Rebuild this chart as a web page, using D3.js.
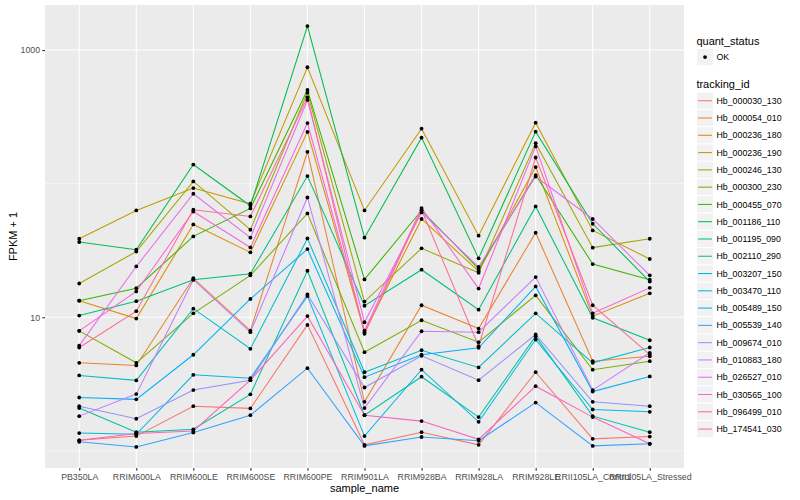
<!DOCTYPE html>
<html>
<head>
<meta charset="utf-8">
<script src="https://d3js.org/d3.v7.min.js"></script>
<style>
  body { margin: 0; background: #fff; }
  text { font-family: "Liberation Sans", Arial, sans-serif; }
</style>
</head>
<body>
<svg width="800" height="500"></svg>
<script>
// categories on the x axis
var samples = ["PB350LA", "RRIM600LA", "RRIM600LE", "RRIM600SE", "RRIM600PE", "RRIM901LA",
               "RRIM928BA", "RRIM928LA", "RRIM928LE", "RRII105LA_Control", "RRII105LA_Stressed"];

var trackingIds = ["Hb_000030_130", "Hb_000054_010", "Hb_000236_180", "Hb_000236_190", "Hb_000246_130",
                   "Hb_000300_230", "Hb_000455_070", "Hb_001186_110", "Hb_001195_090", "Hb_002110_290",
                   "Hb_003207_150", "Hb_003470_110", "Hb_005489_150", "Hb_005539_140", "Hb_009674_010",
                   "Hb_010883_180", "Hb_026527_010", "Hb_030565_100", "Hb_096499_010", "Hb_174541_030"];

// ggplot default hue palette, 20 levels
var colors = ["#F8766D", "#EA8331", "#D89000", "#C09B00", "#A3A500", "#7CAE00", "#39B600", "#00BB4E",
              "#00BF7D", "#00C1A3", "#00BFC4", "#00BAE0", "#00B0F6", "#35A2FF", "#9590FF", "#C77CFF",
              "#E76BF3", "#FA62DB", "#FF62BC", "#FF6C91"];

// FPKM + 1, one row per tracking id, one value per sample
var fpkm = [
  [1.20, 1.29, 2.16, 2.08, 8.77, 1.11, 1.38, 1.11, 3.88, 1.23, 1.28],      // Hb_000030_130
  [4.56, 4.36, 19.6, 7.95, 173, 2.33, 12.3, 8.23, 42.9, 4.69, 5.11],       // Hb_000054_010
  [13.3, 9.78, 49.5, 30.6, 244, 7.73, 54.4, 22.1, 133, 10.2, 15.1],        // Hb_000236_180
  [38.7, 63.0, 92.7, 70.7, 743, 63.0, 258, 40.8, 286, 44.7, 27.3],         // Hb_000236_190
  [17.9, 31.0, 104, 45.2, 480, 13.1, 32.8, 21.5, 201, 33.2, 38.7],         // Hb_000246_130
  [7.91, 4.56, 10.7, 20.6, 59.9, 5.48, 9.50, 6.51, 14.6, 4.05, 4.69],      // Hb_000300_230
  [13.3, 16.5, 40.3, 65.2, 503, 19.2, 63.0, 23.0, 116, 25.0, 19.1],        // Hb_000455_070
  [36.6, 32.0, 139, 68.3, 1512, 39.4, 221, 27.6, 245, 50.1, 18.5],         // Hb_001186_110
  [10.3, 13.2, 19.1, 21.2, 114, 12.2, 22.7, 11.4, 67.5, 9.90, 6.73],       // Hb_001195_090
  [2.09, 1.38, 1.45, 2.65, 22.3, 1.85, 3.59, 1.79, 7.21, 1.82, 1.38],      // Hb_002110_290
  [3.67, 3.37, 11.6, 5.81, 38.9, 3.88, 5.67, 4.21, 10.7, 4.56, 5.94],      // Hb_003207_150
  [1.36, 1.33, 3.71, 3.50, 14.4, 1.29, 4.05, 1.65, 6.81, 2.04, 1.96],      // Hb_003470_110
  [2.51, 2.43, 5.24, 13.7, 32.4, 3.56, 5.24, 5.91, 17.0, 2.78, 3.61],      // Hb_005489_150
  [1.17, 1.07, 1.37, 1.85, 4.16, 1.09, 1.27, 1.19, 2.30, 1.09, 1.13],      // Hb_005539_140
  [2.16, 1.74, 2.85, 3.38, 14.8, 2.98, 5.15, 3.38, 7.43, 2.33, 2.16],      // Hb_009674_010
  [1.82, 2.66, 19.1, 7.73, 78.8, 2.09, 7.86, 7.73, 20.0, 2.85, 5.42],      // Hb_010883_180
  [6.14, 24.0, 84.0, 39.4, 423, 9.18, 60.9, 23.8, 113, 54.4, 20.6],        // Hb_026527_010
  [7.91, 15.6, 61.9, 33.3, 284, 7.95, 65.7, 16.4, 190, 10.7, 16.6],        // Hb_030565_100
  [1.20, 1.35, 1.41, 3.38, 10.2, 1.85, 1.67, 1.22, 3.05, 1.79, 1.13],      // Hb_096499_010
  [5.94, 11.1, 63.8, 56.8, 443, 7.52, 63.8, 6.07, 157, 12.3, 5.26]         // Hb_174541_030
];

var yMajor = [10, 1000];
var yMinor = [1, 100];
var statusLevels = ["OK"];

var svg = d3.select("svg");
var pLeft = 45, pRight = 684, pTop = 5, pBottom = 468;

var x = d3.scalePoint().domain(samples).range([pLeft, pRight]).padding(0.6);

// log range with ggplot's 5% expansion
var all = d3.merge(fpkm);
var l0 = Math.log10(d3.min(all)), l1 = Math.log10(d3.max(all));
var ext = (l1 - l0) * 0.05;
var y = d3.scaleLog().domain([Math.pow(10, l0 - ext), Math.pow(10, l1 + ext)]).range([pBottom, pTop]);

// panel
svg.append("rect").attr("x", pLeft).attr("y", pTop)
  .attr("width", pRight - pLeft).attr("height", pBottom - pTop).attr("fill", "#EBEBEB");

svg.selectAll(".minor").data(yMinor).enter().append("line")
  .attr("x1", pLeft).attr("x2", pRight)
  .attr("y1", function(d) { return y(d); }).attr("y2", function(d) { return y(d); })
  .attr("stroke", "#fff").attr("stroke-width", 0.55);

svg.selectAll(".major").data(yMajor).enter().append("line")
  .attr("x1", pLeft).attr("x2", pRight)
  .attr("y1", function(d) { return y(d); }).attr("y2", function(d) { return y(d); })
  .attr("stroke", "#fff").attr("stroke-width", 1.1);

svg.selectAll(".vgrid").data(samples).enter().append("line")
  .attr("x1", function(d) { return x(d); }).attr("x2", function(d) { return x(d); })
  .attr("y1", pTop).attr("y2", pBottom)
  .attr("stroke", "#fff").attr("stroke-width", 1.1);

// lines
var line = d3.line()
  .x(function(d, i) { return x(samples[i]); })
  .y(function(d) { return y(d); });

svg.selectAll(".series").data(fpkm).enter().append("path")
  .attr("d", line)
  .attr("fill", "none")
  .attr("stroke", function(d, i) { return colors[i]; })
  .attr("stroke-width", 1.05);

// points
fpkm.forEach(function(row) {
  svg.selectAll(null).data(row).enter().append("circle")
    .attr("cx", function(d, i) { return x(samples[i]); })
    .attr("cy", function(d) { return y(d); })
    .attr("r", 1.9)
    .attr("fill", "#000");
});

// axes
var yAxis = svg.append("g").attr("transform", "translate(" + pLeft + ",0)")
  .call(d3.axisLeft(y).tickValues(yMajor).tickFormat(d3.format("d")).tickSize(2.74).tickPadding(2.2));
var xAxis = svg.append("g").attr("transform", "translate(0," + pBottom + ")")
  .call(d3.axisBottom(x).tickSize(2.74).tickPadding(2.6));

[yAxis, xAxis].forEach(function(a) {
  a.select(".domain").remove();
  a.selectAll("line").attr("stroke", "#333333").attr("stroke-width", 1.07);
  a.selectAll("text").attr("fill", "#4D4D4D").style("font-size", "8.8px");
});

svg.append("text").attr("x", (pLeft + pRight) / 2).attr("y", 492)
  .attr("text-anchor", "middle").style("font-size", "11px").text("sample_name");

svg.append("text").attr("transform", "translate(17," + (pTop + pBottom) / 2 + ") rotate(-90)")
  .attr("text-anchor", "middle").style("font-size", "11px").text("FPKM + 1");

// legends
var lx = 696.4, key = 17.28;

svg.append("text").attr("x", lx).attr("y", 44.6).style("font-size", "11px").text("quant_status");
var sk = svg.selectAll(".skey").data(statusLevels).enter().append("g")
  .attr("transform", function(d, i) { return "translate(" + lx + "," + (48.4 + i * key) + ")"; });
sk.append("rect").attr("width", key).attr("height", key).attr("fill", "#F2F2F2").attr("stroke", "#fff");
sk.append("circle").attr("cx", key / 2).attr("cy", key / 2).attr("r", 1.9).attr("fill", "#000");
sk.append("text").attr("x", key + 2.8).attr("y", key / 2 + 3.1).style("font-size", "8.8px").text(function(d) { return d; });

svg.append("text").attr("x", lx).attr("y", 88.2).style("font-size", "11px").text("tracking_id");
var tk = svg.selectAll(".tkey").data(trackingIds).enter().append("g")
  .attr("transform", function(d, i) { return "translate(" + lx + "," + (92.1 + i * key) + ")"; });
tk.append("rect").attr("width", key).attr("height", key).attr("fill", "#F2F2F2").attr("stroke", "#fff");
tk.append("line").attr("x1", 1.7).attr("x2", key - 1.7).attr("y1", key / 2).attr("y2", key / 2)
  .attr("stroke", function(d, i) { return colors[i]; }).attr("stroke-width", 1.05);
tk.append("text").attr("x", key + 2.8).attr("y", key / 2 + 3.1).style("font-size", "8.8px").text(function(d) { return d; });
</script>
</body>
</html>
